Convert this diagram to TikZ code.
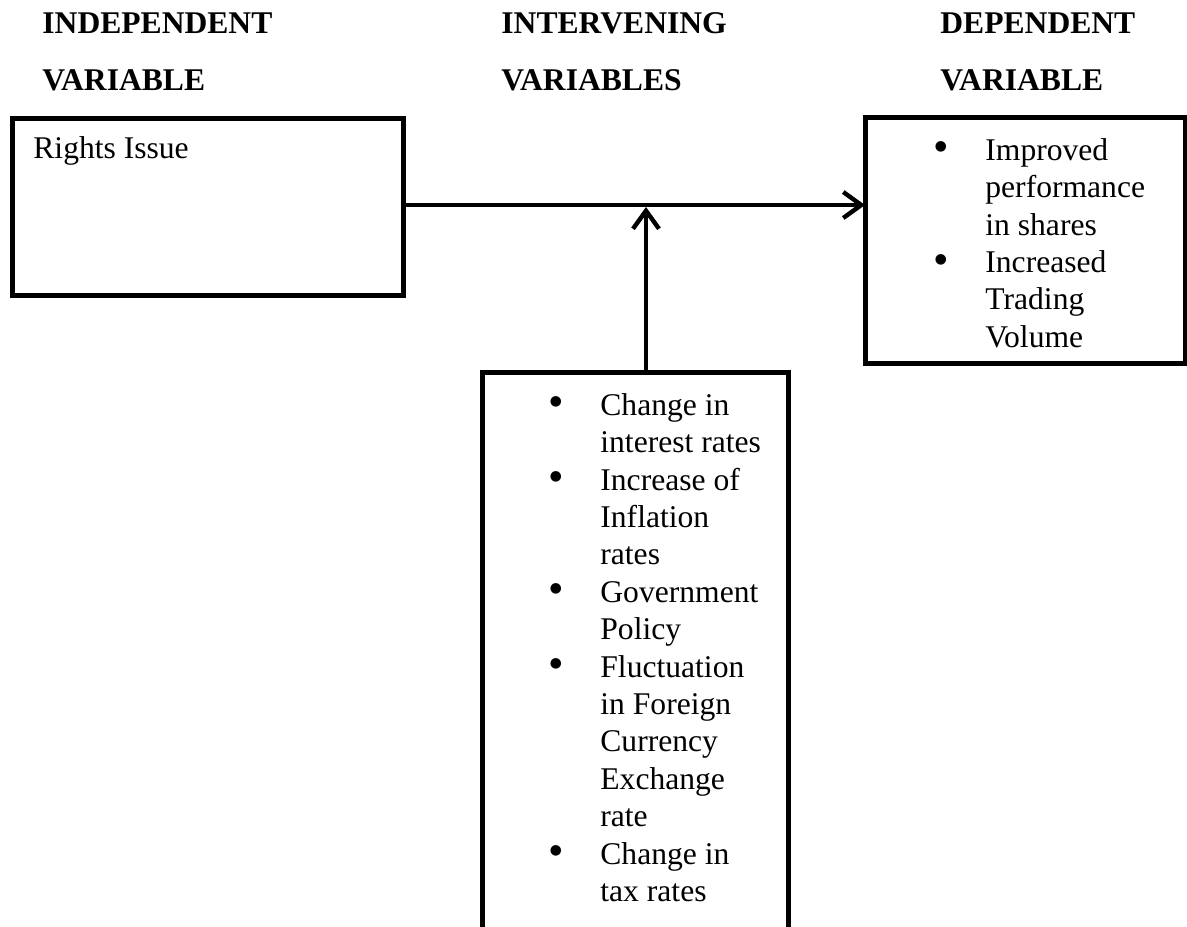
\documentclass[tikz,border=0pt]{standalone}
\usepackage{fontspec}
\setmainfont{Liberation Serif}
\usetikzlibrary{arrows.meta}
\tikzset{
  % column headings
  heading/.style={
    font=\bfseries\fontsize{15.8}{28.5}\selectfont,
    align=left,
    anchor=north west,
    inner sep=0pt
  },
  % variable boxes
  varbox/.style={
    draw=black,
    line width=2.5pt,
    anchor=north west,
    inner sep=0pt,
    outer sep=0pt
  },
  % text inside the boxes
  boxtext/.style={
    font=\fontsize{15.8}{18.7}\selectfont,
    align=left,
    inner sep=0pt
  },
  % arrows between boxes
  link/.style={
    draw=black,
    line width=2.2pt,
    -{Straight Barb[length=9pt,width=13pt]}
  }
}
\newcommand{\bul}{\llap{\raisebox{-0.8pt}{\scalebox{1.4}{\textbullet}}\hspace{18pt}}}

\begin{document}
\begin{tikzpicture}[x=0.5pt,y=-0.5pt]
  \useasboundingbox (0,0) rectangle (1187,926);
  % Headings
  \node[heading] (hIndep) at (42,12) {INDEPENDENT\\VARIABLE};
  \node[heading] (hInterv) at (501,12) {INTERVENING\\VARIABLES};
  \node[heading] (hDep) at (940,12) {DEPENDENT\\VARIABLE};
  % Boxes
  \node[varbox, minimum width=195.5pt, minimum height=88.5pt] (indep) at (12,118) {};
  \node[varbox, minimum width=160pt, minimum height=123pt] (dep) at (865,117) {};
  \node[varbox, minimum width=153pt, minimum height=290pt] (interv) at (482,372) {};
  % Box contents
  \node[boxtext, anchor=base west] (indepTxt) at (33,158) {Rights Issue};
  \node[boxtext, anchor=north west] (depTxt) at (985,138) {%
    \bul Improved\\performance\\in shares\\
    \bul Increased\\Trading\\Volume};
  \node[boxtext, anchor=north west] (intervTxt) at (600,393) {%
    \bul Change in\\interest rates\\
    \bul Increase of\\Inflation\\rates\\
    \bul Government\\Policy\\
    \bul Fluctuation\\in Foreign\\Currency\\Exchange\\rate\\
    \bul Change in\\tax rates};
  % Connectors
  \coordinate (join) at (646,207);
  \draw[link] (indep.east |- 0,205) -- (dep.west |- 0,205);
  \draw[link] (interv.north -| join) -- (join);
\end{tikzpicture}
\end{document}
